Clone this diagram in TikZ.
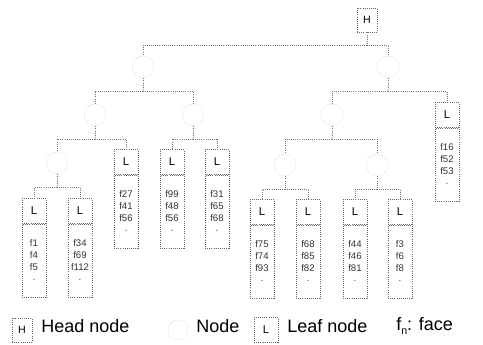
\documentclass[tikz,border=0pt]{standalone}
\usepackage{fontspec}
\setmainfont{Liberation Sans}
\usetikzlibrary{positioning,calc}
\tikzstyle{treelink} = [draw=black!55, densely dotted, line width=0.6pt]
\tikzstyle{headbox} = [draw=black!60, densely dotted, line width=0.6pt, minimum width=15pt, minimum height=18pt, inner sep=0pt, font=\fontsize{8}{8}\selectfont]
\tikzstyle{treenode} = [circle, draw=black!25, densely dotted, minimum size=16.5pt, inner sep=0pt]
\tikzstyle{leafbox} = [draw=black!60, densely dotted, line width=0.6pt, minimum width=18pt, minimum height=18.75pt, inner sep=0pt, font=\fontsize{8.5}{8.5}\selectfont]
\tikzstyle{facebox} = [draw=black!60, densely dotted, line width=0.6pt, minimum width=18pt, minimum height=55pt, inner sep=0pt, align=center, text=black!80, font=\fontsize{7.2}{9}\selectfont]
\tikzstyle{keytext} = [anchor=west, inner sep=0pt, font=\fontsize{13.5}{13.5}\selectfont]
\newcommand{\leafnode}[5]{%
  \node[leafbox] (#1) at (#2) {L};
  \node[facebox, below=0pt of #1] (#1f) {#3\\#4\\#5\\·};
}

\begin{document}
\begin{tikzpicture}[x=0.75pt,y=-0.75pt]
\useasboundingbox (0,0) rectangle (483,345);

% head and inner nodes
\node[headbox] (head) at (367,20) {H};
\node[treenode] (n1) at (143,67) {};
\node[treenode] (n2) at (388,67) {};
\node[treenode] (n3) at (95,115) {};
\node[treenode] (n4) at (193,115) {};
\node[treenode] (n5) at (57,163) {};
\node[treenode] (n6) at (332,115) {};
\node[treenode] (n7) at (285,165) {};
\node[treenode] (n8) at (377,165) {};

% leaves with their faces
\leafnode{lf1}{34,211}{f1}{f4}{f5}
\leafnode{lf2}{80,211}{f34}{f69}{f112}
\leafnode{lf3}{126,162}{f27}{f41}{f56}
\leafnode{lf4}{172,162}{f99}{f48}{f56}
\leafnode{lf5}{217,162}{f31}{f65}{f68}
\leafnode{lf6}{262,212}{f75}{f74}{f93}
\leafnode{lf7}{308,212}{f68}{f85}{f82}
\leafnode{lf8}{355,212}{f44}{f46}{f81}
\leafnode{lf9}{400,212}{f3}{f6}{f8}
\leafnode{lf10}{447,115}{f16}{f52}{f53}

\foreach \p/\c in {head/n1, head/n2, n1/n3, n1/n4, n2/n6, n2/lf10,
    n3/n5, n3/lf3, n4/lf4, n4/lf5, n5/lf1, n5/lf2,
    n6/n7, n6/n8, n7/lf6, n7/lf7, n8/lf8, n8/lf9}
  \draw[treelink] (\p.south) -- ++(0,13) -| (\c.north);

% legend
\node[headbox] (keyhead) at (22,330) {H};
\node[keytext] (keyheadtxt) at (41,326) {Head node};
\node[treenode, minimum size=15pt] (keynode) at (178,330) {};
\node[keytext] (keynodetxt) at (196,326) {Node};
\node[leafbox] (keyleaf) at (266,330) {L};
\node[keytext] (keyleaftxt) at (287,326) {Leaf node};
\node[keytext] (keyface) at (396,326) {f\raisebox{-0.45ex}{\fontsize{8}{8}\selectfont n}: face};
\end{tikzpicture}
\end{document}
